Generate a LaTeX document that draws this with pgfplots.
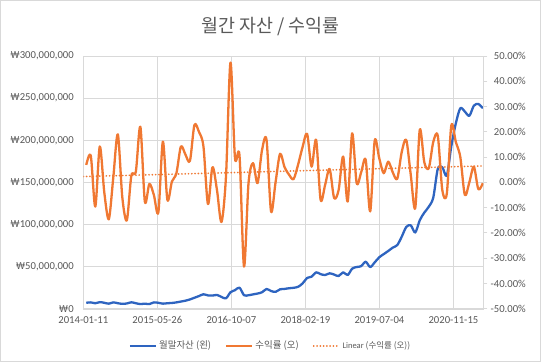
\documentclass[border=0pt]{standalone}
\usepackage{pgfplots}
\pgfplotsset{compat=1.18}
\usepackage{pgfplotstable}
\usepackage{fontspec}
\setmainfont{Carlito}
\newfontfamily\kr{Noto Sans CJK KR}
\definecolor{txt}{HTML}{595959}
\definecolor{grd}{HTML}{D9D9D9}
\definecolor{cblue}{RGB}{46,100,192}
\definecolor{corange}{RGB}{240,120,50}

\pgfplotstableread{
k asset ret
0 7 6.9
1 7.5 10.5
2 6.5 -9.6
3 7.8 14.2
4 7 -4
5 6 -14.6
6 7.5 2
7 6.5 19
8 5.8 -6
9 6.2 -15
10 7.6 2.6
11 6.5 4.3
12 5.5 22
13 6 -7.6
14 5.5 -0.6
15 7.5 -5
16 7 -11.8
17 6 16.1
18 6.5 -6.9
19 6.8 0.3
20 7.5 3.6
21 8.5 14.2
22 9.5 11
23 11 8.5
24 13 22.7
25 15 20
26 17.1 14.2
27 15.8 -8.6
28 15.6 6
29 16.3 -3
30 14 -15.7
31 12.3 2.3
32 19.5 47.4
33 22 9.6
34 25 10.6
35 16 -33.3
36 16 -0.3
37 17 7.6
38 18 -0.3
39 19.5 12.8
40 23.4 16.8
41 21 -11.5
42 20 0
43 23 11.3
44 23.5 6
45 24.3 3
46 24.8 1.3
47 26 7
48 30 14
49 36.5 19.2
50 38 6.2
51 43.2 16.8
52 41 -6.9
53 40 -1
54 42 5.3
55 40.5 -6.2
56 38.8 -3
57 43.2 10.2
58 40 -7.6
59 47.5 19.4
60 49.5 -0.3
61 50.5 4
62 55.8 8.9
63 49.5 -11.5
64 55 16.5
65 61 9.6
66 64.8 3.6
67 68.5 8.2
68 72.5 4
69 75.5 1.4
70 85.5 12
71 97 16.8
72 99 3
73 90.5 -10.2
74 105 20.8
75 114 8
76 121 5.6
77 132 16
78 166 18.4
79 168 -3
80 158 -4.5
81 193 22.5
82 220 16
83 238 10
84 234 -5
85 229 0
86 241 6.2
87 243 -2.7
88 238 -0.3
}\data

\begin{document}
\begin{tikzpicture}
\useasboundingbox (-83.3bp,-53.3bp) rectangle (457.7bp,308.7bp);
\fill[white] (-83.3bp,-53.3bp) rectangle (457.7bp,308.7bp);
\draw[grd] (-82.8bp,-52.8bp) rectangle (457.2bp,308.2bp);
\begin{axis}[
  scale only axis, width=400bp, height=252.7bp,
  at={(0,0)}, anchor=south west,
  xmin=-0.66, xmax=88.1, ymin=0, ymax=300,
  axis line style={grd},
  grid=major, grid style={grd, line width=0.8pt},
  major tick length=0pt,
  xtick={-0.657,15.77,32.2,48.62,65.05,81.47},
  xticklabels={2014-01-11,2015-05-26,2016-10-07,2018-02-19,2019-07-04,2020-11-15},
  ytick={0,50,100,150,200,250,300},
  yticklabels={₩0,{₩50,000,000},{₩100,000,000},{₩150,000,000},{₩200,000,000},{₩250,000,000},{₩300,000,000}},
  tick label style={font=\fontsize{10.7}{12}\selectfont, text=txt},
  yticklabel style={xshift=-6bp},
  xticklabel style={yshift=-4bp},
]
\addplot[cblue, line width=2.3pt, smooth, line join=round] table[x=k, y=asset] {\data};
\end{axis}
\begin{axis}[
  scale only axis, width=400bp, height=252.7bp,
  at={(0,0)}, anchor=south west,
  xmin=-0.66, xmax=88.1, ymin=-50, ymax=50,
  axis x line=none, axis y line*=right,
  axis line style={grd},
  ytick={-50,-40,-30,-20,-10,0,10,20,30,40,50},
  yticklabels={-50.00\%,-40.00\%,-30.00\%,-20.00\%,-10.00\%,0.00\%,10.00\%,20.00\%,30.00\%,40.00\%,50.00\%},
  tick align=outside, major tick length=4bp,
  ytick style={grd, line width=0.8pt},
  tick label style={font=\fontsize{10.7}{12}\selectfont, text=txt},
  yticklabel style={anchor=east, xshift=42bp},
  legend columns=3,
  legend style={at={(0.468,-0.1464)}, anchor=center, draw=none, fill=none,
    font=\fontsize{9.5}{11}\selectfont, text=txt,
    /tikz/every even column/.style={column sep=12bp}},
  legend image code/.code={\draw[#1] (0bp,0bp) -- (26bp,0bp);},
]
\addlegendimage{cblue, line width=2.3pt}
\addlegendentry{\kr 월말자산 (왼)}
\addplot[corange, line width=2.3pt, smooth, line join=round] table[x=k, y=ret] {\data};
\addlegendentry{\kr 수익률 (오)}
\addplot[corange, line width=1.8pt, line cap=round, dash pattern=on 0.1pt off 3.2pt] coordinates {(-0.66,2.3) (88.1,6.5)};
\addlegendentry{\fontsize{8.5}{10}\selectfont Linear {\kr (수익률 (오))}}
\end{axis}
\node[font=\kr\fontsize{18.5}{20}\selectfont, text=txt] at (187.2bp,281.7bp) {월간 자산 / 수익률};
\end{tikzpicture}
\end{document}
